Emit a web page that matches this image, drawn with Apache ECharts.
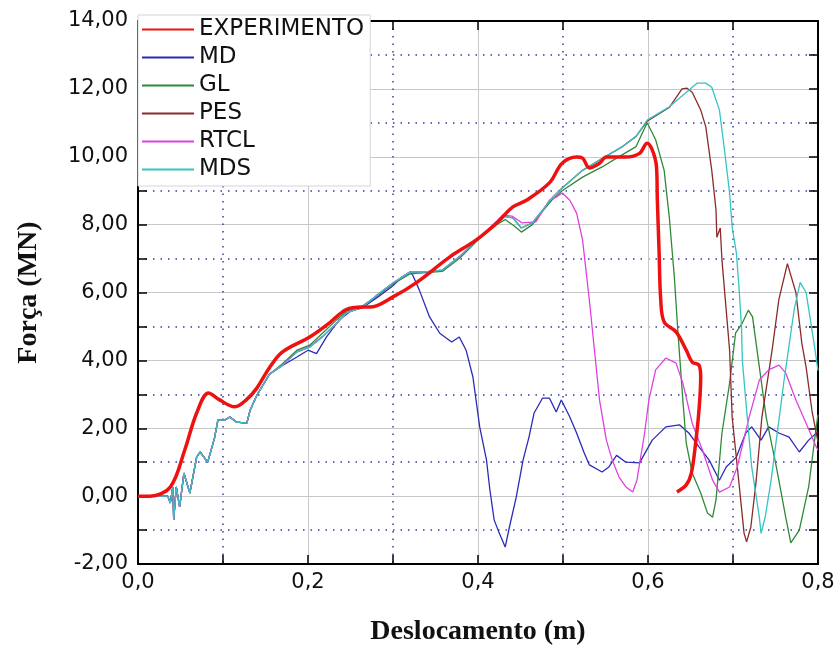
<!DOCTYPE html>
<html>
<head>
<meta charset="utf-8">
<script src="https://cdn.jsdelivr.net/npm/echarts@6/dist/echarts.min.js"></script>
<style>
  html, body { margin: 0; padding: 0; background: #fff; }
  #chart { width: 835px; height: 646px; }
</style>
</head>
<body>
<div id="chart"></div>
<script>
// shared noisy start of the numerical models
var modelStart = [[0,0],[0.035,0],[0.038,-0.2],[0.041,0.27],[0.042,-0.7],[0.045,0.27],[0.049,-0.32],
    [0.054,0.68],[0.061,0.09],[0.069,1.15],[0.073,1.3],[0.082,1.0],[0.09,1.71],[0.094,2.24],[0.102,2.24],
    [0.108,2.33],[0.116,2.18],[0.128,2.15],[0.132,2.54],[0.14,2.98],[0.155,3.6]];

var experimento = [[0,0],[0.014,0],[0.038,0.27],[0.055,1.36],[0.069,2.45],[0.083,3.04],[0.095,2.85],
    [0.114,2.63],[0.128,2.85],[0.14,3.19],[0.155,3.8],[0.17,4.25],[0.202,4.69],[0.225,5.1],[0.245,5.5],
    [0.264,5.57],[0.273,5.57],[0.3,5.87],[0.328,6.3],[0.367,7.05],[0.398,7.55],[0.422,8.05],[0.441,8.52],
    [0.457,8.72],[0.484,9.23],[0.499,9.81],[0.516,9.99],[0.523,9.96],[0.531,9.67],[0.543,9.81],[0.551,9.99],
    [0.574,9.99],[0.59,10.1],[0.599,10.4],[0.605,10.2],[0.61,9.7],[0.611,8.72],[0.613,7.25],[0.615,5.78],
    [0.619,5.13],[0.633,4.84],[0.645,4.3],[0.652,3.95],[0.66,3.86],[0.662,3.51],[0.66,2.54],[0.656,1.56],
    [0.651,0.68],[0.645,0.33],[0.634,0.12]];

var md = modelStart.concat([[0.17,3.85],[0.187,4.1],[0.2,4.3],[0.21,4.2],[0.222,4.7],[0.237,5.2],[0.25,5.45],
    [0.264,5.55],[0.284,5.9],[0.3,6.2],[0.31,6.45],[0.32,6.6],[0.323,6.52],[0.331,6.07],[0.343,5.28],
    [0.355,4.8],[0.369,4.54],[0.378,4.69],[0.386,4.3],[0.394,3.51],[0.402,2.04],[0.41,1.06],[0.414,0.18],
    [0.419,-0.7],[0.425,-1.09],[0.432,-1.5],[0.437,-0.91],[0.445,-0.03],[0.453,1.06],[0.46,1.74],
    [0.466,2.45],[0.476,2.89],[0.484,2.89],[0.492,2.48],[0.498,2.83],[0.508,2.33],[0.516,1.86],[0.525,1.27],
    [0.531,0.92],[0.546,0.71],[0.554,0.86],[0.563,1.2],[0.574,1.0],[0.59,0.98],[0.605,1.65],[0.621,2.04],
    [0.637,2.1],[0.648,1.86],[0.66,1.45],[0.672,1.06],[0.684,0.47],[0.692,0.86],[0.704,1.15],[0.715,1.86],
    [0.722,2.04],[0.733,1.65],[0.742,2.04],[0.754,1.86],[0.766,1.74],[0.778,1.3],[0.789,1.65],[0.8,1.9]]);

var gl = modelStart.concat([[0.17,3.9],[0.187,4.3],[0.202,4.45],[0.217,4.8],[0.234,5.2],[0.245,5.45],
    [0.264,5.6],[0.284,5.95],[0.3,6.25],[0.32,6.55],[0.335,6.58],[0.358,6.62],[0.378,7.0],[0.402,7.6],
    [0.422,8.0],[0.432,8.15],[0.443,7.95],[0.451,7.78],[0.464,8.0],[0.476,8.4],[0.488,8.75],[0.499,9.0],
    [0.523,9.4],[0.546,9.7],[0.563,9.96],[0.586,10.3],[0.599,11.0],[0.609,10.5],[0.619,9.6],[0.625,8.23],
    [0.631,6.46],[0.635,4.9],[0.641,2.83],[0.645,1.56],[0.652,0.68],[0.662,0.09],[0.67,-0.5],[0.676,-0.62],
    [0.68,-0.11],[0.687,1.86],[0.696,3.33],[0.703,4.8],[0.711,5.1],[0.718,5.48],[0.723,5.28],[0.731,3.8],
    [0.739,2.33],[0.751,0.86],[0.762,-0.62],[0.768,-1.38],[0.778,-1.0],[0.789,0.27],[0.798,2.04],[0.8,2.4]]);

var pes = modelStart.concat([[0.17,3.86],[0.187,4.25],[0.202,4.4],[0.217,4.7],[0.234,5.1],[0.245,5.4],
    [0.264,5.57],[0.284,5.98],[0.3,6.28],[0.32,6.6],[0.335,6.6],[0.358,6.66],[0.378,7.05],[0.402,7.63],
    [0.422,8.05],[0.429,8.25],[0.441,8.2],[0.451,7.9],[0.464,8.05],[0.476,8.43],[0.488,8.81],[0.499,9.08],
    [0.523,9.6],[0.546,9.95],[0.57,10.3],[0.586,10.6],[0.599,11.05],[0.625,11.45],[0.64,12.0],[0.646,12.02],
    [0.652,11.9],[0.662,11.38],[0.668,10.88],[0.675,9.6],[0.68,8.43],[0.681,7.63],[0.685,7.9],[0.687,6.96],
    [0.692,5.48],[0.696,4.3],[0.699,2.33],[0.707,0.39],[0.713,-1.09],[0.716,-1.35],[0.721,-0.91],
    [0.727,0.39],[0.734,2.33],[0.746,4.3],[0.754,5.8],[0.764,6.85],[0.774,6.0],[0.781,4.5],[0.786,3.8],
    [0.793,2.5],[0.8,1.6]]);

var rtcl = modelStart.concat([[0.17,3.86],[0.187,4.25],[0.202,4.4],[0.217,4.7],[0.234,5.1],[0.245,5.4],
    [0.264,5.57],[0.284,5.98],[0.3,6.28],[0.32,6.6],[0.335,6.6],[0.358,6.66],[0.378,7.05],[0.402,7.63],
    [0.422,8.1],[0.429,8.28],[0.44,8.25],[0.452,8.05],[0.468,8.08],[0.484,8.72],[0.492,8.81],[0.499,8.93],
    [0.508,8.72],[0.516,8.34],[0.523,7.55],[0.531,5.78],[0.537,4.3],[0.543,2.83],[0.551,1.65],[0.558,1.06],
    [0.566,0.56],[0.574,0.27],[0.582,0.12],[0.587,0.47],[0.596,1.86],[0.601,2.83],[0.609,3.72],[0.621,4.07],
    [0.633,3.92],[0.641,3.33],[0.652,2.15],[0.664,1.36],[0.676,0.47],[0.684,0.12],[0.696,0.27],[0.705,0.86],
    [0.719,2.33],[0.731,3.42],[0.742,3.72],[0.754,3.86],[0.762,3.63],[0.774,2.83],[0.786,2.15],[0.798,1.45],
    [0.8,1.35]]);

var mds = modelStart.concat([[0.17,3.86],[0.187,4.25],[0.202,4.39],[0.217,4.69],[0.234,5.1],[0.245,5.39],
    [0.264,5.57],[0.284,5.98],[0.3,6.28],[0.32,6.6],[0.335,6.6],[0.358,6.66],[0.378,7.05],[0.402,7.63],
    [0.422,8.05],[0.429,8.25],[0.441,8.2],[0.451,7.9],[0.464,8.05],[0.476,8.43],[0.488,8.81],[0.499,9.08],
    [0.523,9.6],[0.546,9.95],[0.57,10.3],[0.586,10.6],[0.599,11.08],[0.625,11.47],[0.648,11.96],[0.658,12.17],
    [0.668,12.17],[0.675,12.05],[0.684,11.38],[0.69,10.2],[0.696,8.93],[0.699,7.93],[0.704,7.16],[0.707,6.16],
    [0.71,4.98],[0.711,4.0],[0.715,2.83],[0.722,0.86],[0.731,-0.62],[0.733,-1.1],[0.738,-0.6],[0.745,0.5],
    [0.76,3.4],[0.772,5.5],[0.779,6.3],[0.786,6.0],[0.791,5.2],[0.796,4.4],[0.8,3.7]]);

var seriesNames = ['EXPERIMENTO', 'MD', 'GL', 'PES', 'RTCL', 'MDS'];
var seriesData = [experimento, md, gl, pes, rtcl, mds];
var seriesColors = ['#ee1111', '#2b2bb8', '#2e8a36', '#8a2a2a', '#e040e0', '#34c4c4'];
var seriesWidths = [3.5, 1.3, 1.3, 1.3, 1.3, 1.3];

var chart = echarts.init(document.getElementById('chart'));

var tickStyle = { show: true, inside: true, length: 9, lineStyle: { color: '#000', width: 1.5 } };
var minorStyle = { show: true, splitNumber: 2, length: 9, lineStyle: { color: '#000', width: 1.5 } };
var axisLineStyle = { show: true, onZero: false, lineStyle: { color: '#000', width: 2 } };
var gridLine = { show: true, lineStyle: { color: '#c8c8c8', width: 1 } };
var dotLine = { show: true, lineStyle: { color: '#3a3aa6', width: 1.5, type: [1.5, 6] } };

chart.setOption({
    animation: false,
    backgroundColor: '#fff',
    grid: { left: 138, right: 17, top: 21, bottom: 82, containLabel: false, outerBoundsMode: 'none' },
    legend: {
        orient: 'vertical',
        left: 138,
        top: 15,
        data: seriesNames,
        itemWidth: 52,
        itemHeight: 12,
        itemGap: 1,
        padding: [1, 6, 3, 3],
        backgroundColor: '#fff',
        borderColor: '#d4d4d4',
        borderWidth: 1,
        itemStyle: { opacity: 0 },
        textStyle: { fontFamily: 'DejaVu Sans', fontSize: 23, color: '#111', lineHeight: 27 }
    },
    xAxis: [{
        type: 'value', min: 0, max: 0.8, interval: 0.2,
        name: 'Deslocamento (m)', nameLocation: 'middle', nameGap: 54,
        nameTextStyle: { fontFamily: 'Liberation Serif', fontWeight: 'bold', fontSize: 28, color: '#111' },
        axisLine: axisLineStyle,
        axisTick: tickStyle,
        minorTick: minorStyle,
        axisLabel: {
            fontFamily: 'DejaVu Sans', fontSize: 21, color: '#111', margin: 8,
            formatter: function (v) { return v.toFixed(1).replace('.', ','); }
        },
        splitLine: gridLine,
        minorSplitLine: dotLine
    }, {
        type: 'value', min: 0, max: 0.8, interval: 0.2, position: 'top',
        axisLine: axisLineStyle, axisTick: tickStyle, minorTick: minorStyle,
        axisLabel: { show: false }, splitLine: { show: false }
    }],
    yAxis: [{
        type: 'value', min: -2, max: 14, interval: 2,
        name: 'Força (MN)', nameLocation: 'middle', nameGap: 95,
        nameTextStyle: { fontFamily: 'Liberation Serif', fontWeight: 'bold', fontSize: 28, color: '#111' },
        axisLine: axisLineStyle,
        axisTick: tickStyle,
        minorTick: minorStyle,
        axisLabel: {
            fontFamily: 'DejaVu Sans', fontSize: 21, color: '#111', margin: 10,
            formatter: function (v) { return v.toFixed(2).replace('.', ','); }
        },
        splitLine: gridLine,
        minorSplitLine: dotLine
    }, {
        type: 'value', min: -2, max: 14, interval: 2, position: 'right',
        axisLine: axisLineStyle, axisTick: tickStyle, minorTick: minorStyle,
        axisLabel: { show: false }, splitLine: { show: false }
    }],
    series: seriesNames.map(function (name, i) {
        return {
            name: name,
            type: 'line',
            data: seriesData[i],
            symbol: 'none',
            smooth: i === 0 ? 0.35 : false,
            color: seriesColors[i],
            lineStyle: { color: seriesColors[i], width: seriesWidths[i] },
            z: i === 0 ? 3 : 2
        };
    })
});
</script>
</body>
</html>
